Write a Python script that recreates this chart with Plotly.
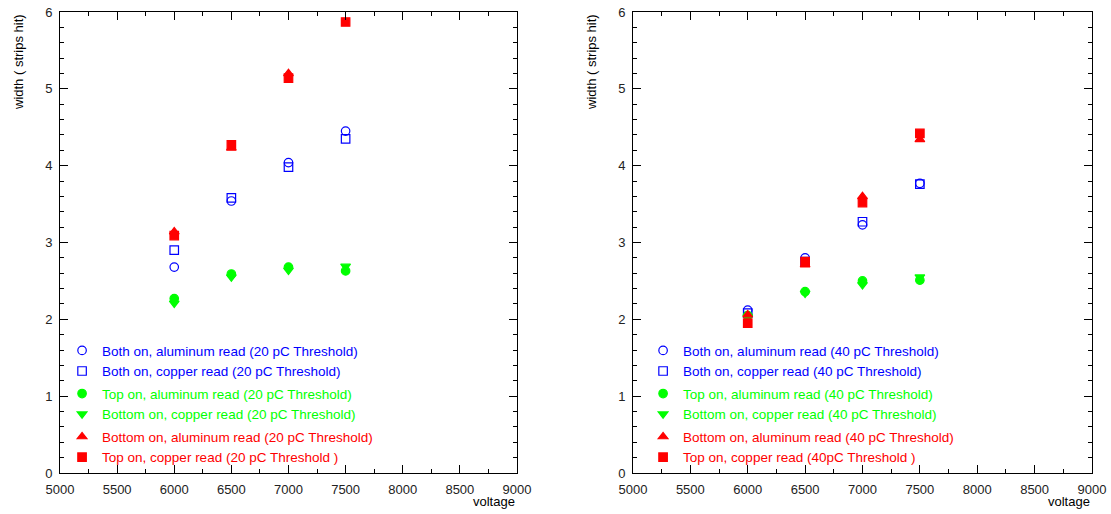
import plotly.graph_objects as go
from plotly.subplots import make_subplots

voltage = [6000, 6500, 7000, 7500]

# Left panel (20 pC threshold)
both_al_20 = [2.68, 3.54, 4.04, 4.45]
both_cu_20 = [2.90, 3.58, 3.98, 4.35]
top_al_20 = [2.27, 2.59, 2.68, 2.63]
bot_cu_20 = [2.21, 2.55, 2.64, 2.69]
bot_al_20 = [3.14, 4.23, 5.20, None]
top_cu_20 = [3.09, 4.27, 5.14, 5.87]

# Right panel (40 pC threshold)
both_al_40 = [2.12, 2.80, 3.23, 3.77]
both_cu_40 = [2.08, 2.75, 3.27, 3.76]
top_al_40 = [2.05, 2.36, 2.50, 2.51]
bot_cu_40 = [2.03, 2.34, 2.45, 2.55]
bot_al_40 = [2.06, 2.71, 3.60, 4.34]
top_cu_40 = [1.95, 2.75, 3.52, 4.42]

labels_20 = [
    "Both on, aluminum read (20 pC Threshold)",
    "Both on, copper read (20 pC Threshold)",
    "Top on, aluminum read (20 pC Threshold)",
    "Bottom on, copper read (20 pC Threshold)",
    "Bottom on, aluminum read (20 pC Threshold)",
    "Top on, copper read (20 pC Threshold )",
]
labels_40 = [
    "Both on, aluminum read (40 pC Threshold)",
    "Both on, copper read (40 pC Threshold)",
    "Top on, aluminum read (40 pC Threshold)",
    "Bottom on, copper read (40 pC Threshold)",
    "Bottom on, aluminum read (40 pC Threshold)",
    "Top on, copper read (40pC Threshold )",
]

BLUE = "#0000ff"
GREEN = "#00ff00"
RED = "#ff0000"

styles = [
    ("circle-open", BLUE, "g1"),
    ("square-open", BLUE, "g1"),
    ("circle", GREEN, "g2"),
    ("triangle-down", GREEN, "g2"),
    ("triangle-up", RED, "g3"),
    ("square", RED, "g3"),
]

FONT = "Arial, Liberation Sans, sans-serif"

fig = make_subplots(rows=1, cols=2, horizontal_spacing=0.1104)

panels = [
    (1, [both_al_20, both_cu_20, top_al_20, bot_cu_20, bot_al_20, top_cu_20], labels_20, "legend"),
    (2, [both_al_40, both_cu_40, top_al_40, bot_cu_40, bot_al_40, top_cu_40], labels_40, "legend2"),
]

for col, series, labels, leg in panels:
    for ys, lab, (sym, color, grp) in zip(series, labels, styles):
        fig.add_trace(
            go.Scatter(
                x=voltage, y=ys, mode="markers",
                name='<span style="color:%s">%s</span>' % (color, lab),
                marker=dict(symbol=sym, size=8.5, color=color,
                            line=dict(width=1.2, color=color)),
                legendgroup=grp + str(col), legend=leg,
            ),
            row=1, col=col,
        )

axis_common = dict(
    showline=True, linecolor="black", linewidth=1, mirror="ticks",
    ticks="inside", ticklen=8, tickwidth=1, tickcolor="black",
    showgrid=False, zeroline=False, ticklabelstandoff=4,
    ticklabeloverflow="allow", automargin=False,
    tickfont=dict(family=FONT, size=13, color="#222"),
)

for col in (1, 2):
    fig.update_xaxes(range=[5000, 9000], dtick=500, tick0=5000,
                     minor=dict(dtick=250, ticklen=4, ticks="inside", tickcolor="black"),
                     row=1, col=col, **axis_common)
    fig.update_yaxes(range=[0, 6], dtick=1, tick0=0,
                     minor=dict(dtick=0.2, ticklen=4, ticks="inside", tickcolor="black"),
                     row=1, col=col, **axis_common)

fig.update_layout(
    width=1111, height=514,
    margin=dict(l=60, r=19, t=12, b=41, autoexpand=False),
    paper_bgcolor="white", plot_bgcolor="white",
    font=dict(family=FONT, size=13, color="black"),
    xaxis=dict(domain=[0, 0.4428]),
    xaxis2=dict(domain=[0.5552, 1.0]),
    legend=dict(x=0.002, y=0.299, xanchor="left", yanchor="top",
                bgcolor="rgba(0,0,0,0)", borderwidth=0,
                traceorder="grouped", tracegroupgap=2,
                font=dict(family=FONT, size=13.5)),
    legend2=dict(x=0.565, y=0.299, xanchor="left", yanchor="top",
                 bgcolor="rgba(0,0,0,0)", borderwidth=0,
                 traceorder="grouped", tracegroupgap=2,
                 font=dict(family=FONT, size=13.5)),
)

for xr, yr in (("x domain", "y domain"), ("x2 domain", "y2 domain")):
    fig.add_annotation(text="width ( strips hit)", textangle=-90,
                       xref=xr, yref=yr, x=0, y=1, xanchor="center", yanchor="top",
                       xshift=-42, showarrow=False,
                       font=dict(family=FONT, size=13, color="black"))
    fig.add_annotation(text="voltage", xref=xr, yref=yr, x=1, y=0,
                       xanchor="right", yanchor="top", yshift=-19, showarrow=False,
                       font=dict(family=FONT, size=13, color="black"))

# remove the page's default body margin so the 1111x514 figure fills the window
fig.write_html("out.html", config={"displayModeBar": False},
               post_script="document.body.style.margin='0px';")
